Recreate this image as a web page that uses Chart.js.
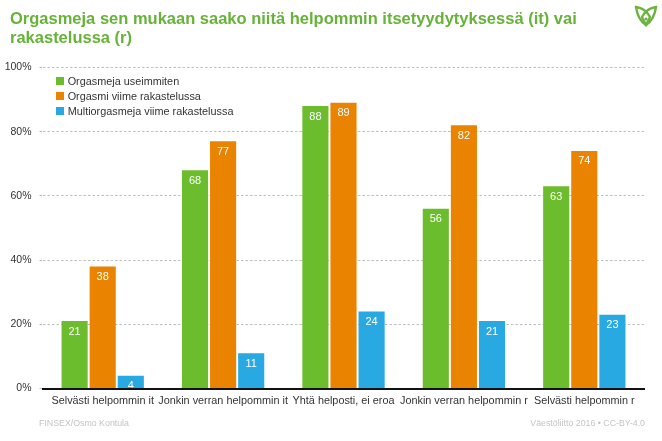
<!DOCTYPE html>
<html>
<head>
<meta charset="utf-8">
<style>
    html, body { margin: 0; padding: 0; background: #fff; }
    #wrap { position: relative; width: 662px; height: 441px; overflow: hidden; font-family: "Liberation Sans", Arial, sans-serif; }
    #title { position: absolute; left: 10px; top: 9px; font-size: 16.5px; font-weight: bold; line-height: 19px; color: #66b338; white-space: nowrap; }
    #legend { position: absolute; left: 56px; top: 74px; font-size: 10.85px; color: #333; }
    #legend div { height: 14.8px; line-height: 14.8px; white-space: nowrap; }
    #legend i { display: inline-block; width: 8px; height: 8px; margin-right: 3.7px; }
    .source { position: absolute; top: 418px; font-size: 8.8px; color: #c4c4c4; }
    #logo { position: absolute; left: 634px; top: 5px; }
</style>
<script src="https://cdn.jsdelivr.net/npm/chart.js@4"></script>
</head>
<body>
<div id="wrap">
    <canvas id="chart" width="662" height="441"></canvas>
    <div id="title"></div>
    <div id="legend"></div>
    <span class="source" style="left: 39px">FINSEX/Osmo Kontula</span>
    <span class="source" style="right: 17px">Väestöliitto 2016 • CC-BY-4.0</span>
    <svg id="logo" width="24" height="22" viewBox="0 0 24 22" fill="none" stroke="#6cb33f" stroke-width="2.3">
        <path d="M2 2 C9 3 13 6 16 12 L12 20 C6 16 3 10 2 2 Z"/>
        <path d="M22 2 C15 3 11 6 8 12 L12 20 C18 16 21 10 22 2 Z"/>
        <circle cx="12" cy="14" r="1.5" fill="#6cb33f" stroke="none"/>
    </svg>
</div>
<script>
const titleLines = ['Orgasmeja sen mukaan saako niitä helpommin itsetyydytyksessä (it) vai', 'rakastelussa (r)'];
const categories = ['Selvästi helpommin it', 'Jonkin verran helpommin it', 'Yhtä helposti, ei eroa', 'Jonkin verran helpommin r', 'Selvästi helpommin r'];
const seriesNames = ['Orgasmeja useimmiten', 'Orgasmi viime rakastelussa', 'Multiorgasmeja viime rakastelussa'];
const seriesColors = ['#6cbd2d', '#e98300', '#29a9e1'];
const useimmiten = [21, 68, 88, 56, 63];
const viimeRakastelussa = [38, 77, 89, 82, 74];
const multiorgasmeja = [4, 11, 24, 21, 23];
const seriesValues = [useimmiten, viimeRakastelussa, multiorgasmeja];

document.querySelector('#title').innerHTML = titleLines.join('<br>');

const legendEl = document.querySelector('#legend');
seriesNames.forEach((name, i) => {
    legendEl.insertAdjacentHTML('beforeend', `<div><i style="background:${seriesColors[i]}"></i>${name}</div>`);
});

// white value labels just inside the top of each bar
const barLabels = {
    id: 'barLabels',
    afterDatasetsDraw(chart) {
        const { ctx, chartArea } = chart;
        ctx.save();
        ctx.beginPath();
        ctx.rect(chartArea.left, chartArea.top, chartArea.width, chartArea.height - 1);
        ctx.clip();
        ctx.font = '11px "Liberation Sans", Arial, sans-serif';
        ctx.fillStyle = '#fff';
        ctx.textAlign = 'center';
        ctx.textBaseline = 'middle';
        chart.data.datasets.forEach((ds, i) => {
            chart.getDatasetMeta(i).data.forEach((bar, j) => {
                ctx.fillText(ds.data[j], bar.x, bar.y + 10.5);
            });
        });
        ctx.restore();
    }
};

new Chart(document.querySelector('#chart'), {
    type: 'bar',
    data: {
        labels: categories,
        datasets: seriesNames.map((name, i) => ({
            label: name,
            data: seriesValues[i],
            backgroundColor: seriesColors[i],
            categoryPercentage: 0.7,
            barPercentage: 0.93
        }))
    },
    plugins: [barLabels],
    options: {
        responsive: false,
        animation: false,
        layout: { padding: { left: 5, right: 17.5, top: 67.5, bottom: 0 } },
        scales: {
            x: {
                grid: { display: false, drawTicks: false },
                border: { color: '#111', width: 2 },
                ticks: {
                    color: '#333',
                    font: { family: '"Liberation Sans", Arial, sans-serif', size: 10.85 },
                    autoSkip: false,
                    maxRotation: 0,
                    padding: 6
                },
                afterFit(scale) { scale.height = 52.5; }
            },
            y: {
                min: 0,
                max: 100,
                grid: {
                    color: '#bdbdbd',
                    lineWidth: 1,
                    tickLength: 3,
                    tickColor: '#bdbdbd',
                    tickBorderDash: [2.5, 2]
                },
                border: { display: false, dash: [2.5, 2] },
                ticks: {
                    stepSize: 20,
                    color: '#333',
                    padding: 8,
                    font: { family: '"Liberation Sans", Arial, sans-serif', size: 10.5 },
                    callback: (value) => value + '%'
                },
                afterFit(scale) { scale.width = 37.5; }
            }
        },
        plugins: {
            legend: { display: false },
            tooltip: { enabled: false },
            title: { display: false }
        }
    }
});
</script>
</body>
</html>
